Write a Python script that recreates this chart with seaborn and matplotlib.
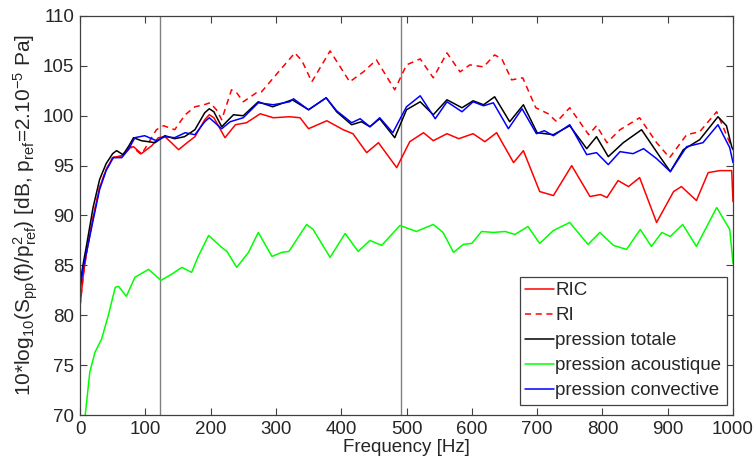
import matplotlib
matplotlib.use("Agg")
import matplotlib.pyplot as plt
import seaborn as sns
import pandas as pd

# --- data ---
freq_ric = [0, 5, 10, 20, 30, 40, 50, 64, 77, 82, 94, 110, 120, 130, 140, 151, 166, 176, 191, 198,
            205, 222, 238, 255, 276, 296, 321, 337, 350, 378, 403, 418, 439, 457, 485, 505, 526, 541,
            562, 580, 602, 620, 638, 664, 679, 704, 725, 753, 781, 797, 807, 824, 840, 857, 883, 909,
            921, 944, 962, 980, 998, 1000]
ric = [80.9, 84.0, 86.3, 89.8, 92.8, 94.6, 95.8, 96.0, 96.8, 96.9, 96.2, 97.0, 97.8, 97.9, 97.3, 96.6,
       97.4, 97.9, 99.6, 100.1, 99.8, 97.8, 99.1, 99.3, 100.2, 99.8, 99.9, 99.8, 98.7, 99.5, 98.6, 98.2,
       96.3, 97.3, 94.8, 97.4, 98.3, 97.5, 98.2, 97.7, 98.2, 97.4, 98.3, 95.3, 96.5, 92.4, 92.0, 95.0,
       91.9, 92.1, 91.8, 93.5, 92.9, 93.8, 89.3, 92.4, 92.9, 91.5, 94.3, 94.5, 94.5, 91.4]

freq_ri = [0, 5, 10, 20, 30, 40, 50, 64, 77, 85, 94, 105, 117, 128, 145, 161, 176, 190, 199, 209,
           217, 232, 240, 250, 270, 278, 304, 329, 340, 355, 383, 413, 434, 454, 482, 500, 521, 541,
           562, 582, 597, 618, 635, 646, 661, 678, 698, 717, 730, 750, 779, 791, 807, 827, 857, 883,
           903, 929, 949, 975, 995, 1000]
ri = [80.9, 84.0, 86.3, 89.8, 92.8, 94.6, 95.8, 96.0, 96.9, 96.6, 96.1, 97.3, 98.6, 99.0, 98.6, 100.1,
      100.9, 101.1, 101.3, 100.6, 99.6, 102.6, 102.3, 101.4, 102.3, 102.4, 104.4, 106.3, 105.5, 103.4,
      106.5, 103.4, 104.4, 105.6, 102.6, 105.1, 105.7, 103.8, 106.3, 104.4, 105.1, 104.9, 106.1, 105.7,
      103.6, 103.8, 100.8, 100.2, 99.4, 100.8, 98.1, 99.0, 97.3, 98.6, 99.8, 97.3, 95.8, 98.1, 98.4,
      100.4, 97.3, 97.0]

freq_tot = [0, 5, 10, 20, 30, 40, 50, 56, 66, 75, 82, 94, 115, 130, 145, 160, 176, 191, 198, 205,
            217, 235, 250, 273, 295, 325, 350, 377, 393, 416, 431, 444, 459, 482, 500, 521, 541, 562,
            585, 602, 618, 635, 658, 679, 700, 725, 750, 776, 791, 809, 832, 860, 888, 904, 924, 949,
            977, 990, 998, 1000]
totale = [83.2, 85.2, 87.0, 90.8, 93.6, 95.2, 96.2, 96.5, 96.1, 97.0, 97.8, 97.5, 97.3, 98.0, 97.7,
          97.9, 98.6, 100.3, 100.7, 100.4, 98.9, 100.1, 100.0, 101.4, 100.9, 101.6, 100.6, 101.8, 100.4,
          99.1, 99.4, 98.9, 99.7, 97.8, 100.6, 101.4, 100.1, 101.6, 100.8, 101.5, 101.1, 101.9, 99.4,
          101.1, 98.3, 98.1, 99.0, 96.7, 97.9, 95.9, 97.3, 98.6, 95.9, 94.4, 96.6, 97.6, 99.9, 99.0,
          96.9, 96.6]

freq_ac = [0, 8, 15, 23, 33, 43, 54, 59, 71, 84, 105, 124, 140, 156, 171, 181, 197, 217, 225, 240,
           258, 273, 294, 309, 320, 347, 357, 383, 406, 426, 444, 462, 490, 515, 541, 556, 572, 587,
           600, 615, 633, 651, 666, 686, 704, 725, 750, 778, 796, 817, 837, 858, 875, 891, 904, 923,
           944, 975, 995, 1000]
acoustique = [66.0, 70.0, 74.3, 76.3, 77.6, 79.9, 82.8, 82.9, 81.9, 83.8, 84.6, 83.5, 84.1, 84.8, 84.3,
              85.9, 88.0, 86.8, 86.4, 84.8, 86.3, 88.3, 85.9, 86.3, 86.4, 89.1, 88.6, 85.8, 88.2, 86.4,
              87.5, 87.0, 89.0, 88.4, 89.1, 88.3, 86.3, 87.1, 87.2, 88.4, 88.3, 88.4, 88.1, 88.9, 87.2,
              88.5, 89.3, 87.1, 88.3, 87.0, 86.6, 88.6, 86.9, 88.3, 87.9, 89.1, 86.9, 90.8, 88.6, 85.2]

freq_conv = [0, 5, 10, 20, 30, 40, 51, 64, 74, 84, 99, 117, 130, 145, 161, 176, 191, 198, 217, 230,
             250, 273, 296, 321, 327, 350, 377, 393, 416, 429, 444, 459, 479, 500, 521, 544, 562, 585,
             602, 618, 633, 656, 677, 699, 711, 725, 750, 776, 791, 809, 827, 847, 863, 883, 904, 929,
             954, 977, 995, 1000]
convective = [82.5, 84.8, 86.3, 89.5, 92.6, 94.5, 95.8, 95.8, 96.6, 97.8, 98.0, 97.5, 97.9, 97.8,
              98.3, 98.1, 99.4, 99.8, 98.7, 99.4, 99.8, 101.3, 101.1, 101.4, 101.7, 100.6, 101.8, 100.5,
              99.3, 99.7, 98.9, 99.8, 98.3, 100.9, 102.0, 99.7, 101.4, 100.4, 101.4, 101.0, 101.3, 98.7,
              100.7, 98.2, 98.5, 98.0, 99.1, 96.1, 96.3, 95.1, 96.4, 96.2, 96.7, 95.7, 94.4, 96.9, 97.3,
              99.1, 96.8, 95.3]

marker_freqs = [122, 491]   # grey vertical reference lines

# --- style: MATLAB-like figure ---
sns.set_style("ticks")
plt.rcParams["font.family"] = ["Liberation Sans", "DejaVu Sans"]
plt.rcParams["mathtext.default"] = "regular"
FS = 13.5

fig = plt.figure(figsize=(7.56, 4.61), dpi=100)
ax = fig.add_axes([80 / 756, 46 / 461, 653 / 756, 399 / 461])

for f in marker_freqs:
    ax.axvline(f, color="#808080", lw=1.0, zorder=1)

series = [
    ("RIC", freq_ric, ric, "#ff0000", "-"),
    ("RI", freq_ri, ri, "#ff0000", "--"),
    ("pression totale", freq_tot, totale, "#000000", "-"),
    ("pression acoustique", freq_ac, acoustique, "#00ff00", "-"),
    ("pression convective", freq_conv, convective, "#0000ff", "-"),
]
for label, fx, fy, color, ls in series:
    df = pd.DataFrame({"f": fx, "v": fy})
    line = sns.lineplot(data=df, x="f", y="v", ax=ax, color=color, lw=1.1,
                        label=label, estimator=None, sort=False)
    if ls == "--":
        line.lines[-1].set_dashes((4, 3))

ax.set_xlim(0, 1000)
ax.set_ylim(70, 110)
ax.set_xticks(range(0, 1001, 100))
ax.set_yticks(range(70, 111, 5))
ax.tick_params(direction="in", top=True, right=True, length=5, width=0.8,
               labelsize=FS, color="#404040", pad=4)
for s in ax.spines.values():
    s.set_color("#404040")
    s.set_linewidth(0.9)

ax.set_xlabel("Frequency [Hz]", fontsize=FS, labelpad=1)
ax.set_ylabel("10*log$_{10}$(S$_{pp}$(f)/p$^2_{ref}$) [dB, p$_{ref}$=2.10$^{-5}$ Pa]",
              fontsize=15, labelpad=2)

# legend order follows plotting order
leg = ax.legend(loc="lower right", bbox_to_anchor=(0.991, 0.025), borderaxespad=0,
                fontsize=FS, frameon=True, fancybox=False, framealpha=1,
                edgecolor="#404040", handlelength=1.5, handletextpad=0.1,
                labelspacing=0.42, borderpad=0.3)
leg.get_frame().set_linewidth(0.9)

fig.savefig("out.png", dpi=100)
